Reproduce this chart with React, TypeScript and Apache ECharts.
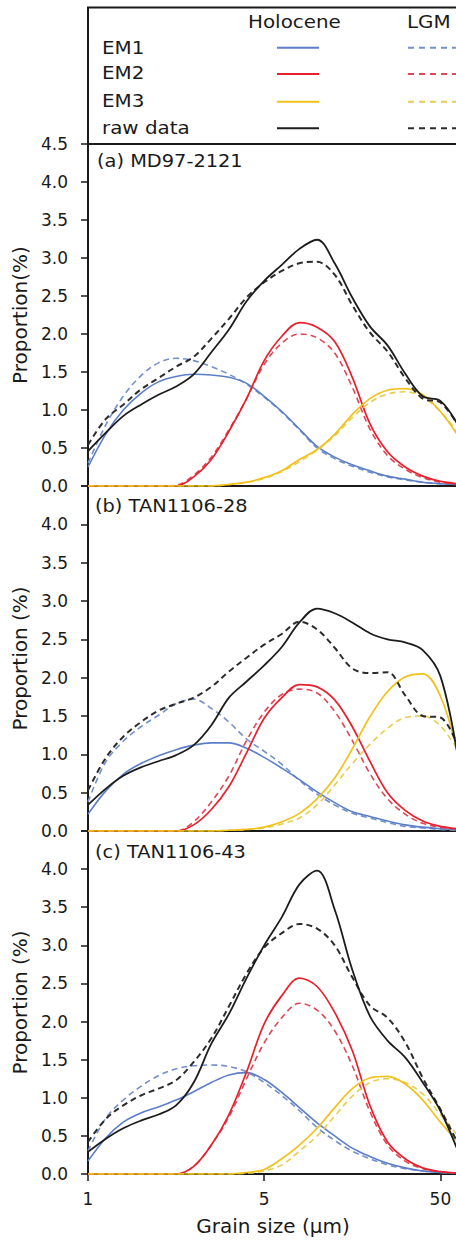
import React, { useEffect, useRef } from 'react';
import * as echarts from 'echarts';

// Grain-size class positions on the x axis (1 µm at 0, 5 µm at 1, 50 µm at 2)
const sizePos = [0, 0.1, 0.2, 0.3, 0.4, 0.5, 0.6, 0.7, 0.8, 0.9, 1.0, 1.1, 1.2, 1.3, 1.4, 1.5, 1.6, 1.7, 1.8, 1.9, 2.0, 2.1];
const sizeTickLabels: Record<string, string> = { '0': '1', '1': '5', '2': '50' };

const panelTags = ['(a) MD97-2121', '(b) TAN1106-28', '(c) TAN1106-43'];
const yNames = ['Proportion(%)', 'Proportion (%)', 'Proportion (%)'];

// (a) MD97-2121
const em1HoloA = [0.25, 0.68, 1.0, 1.22, 1.37, 1.44, 1.47, 1.46, 1.43, 1.35, 1.18, 0.98, 0.75, 0.52, 0.38, 0.28, 0.2, 0.13, 0.09, 0.05, 0.03, 0.02];
const em1LgmA = [0.3, 0.8, 1.18, 1.45, 1.62, 1.68, 1.65, 1.57, 1.47, 1.34, 1.17, 0.97, 0.74, 0.5, 0.36, 0.26, 0.18, 0.12, 0.08, 0.05, 0.03, 0.02];
const em2HoloA = [0, 0, 0, 0, 0, 0, 0.12, 0.35, 0.72, 1.15, 1.65, 1.97, 2.15, 2.09, 1.9, 1.43, 0.82, 0.45, 0.25, 0.13, 0.06, 0.03];
const em2LgmA = [0, 0, 0, 0, 0, 0.01, 0.14, 0.38, 0.74, 1.15, 1.6, 1.88, 2.0, 1.95, 1.75, 1.3, 0.75, 0.4, 0.22, 0.11, 0.05, 0.02];
const em3HoloA = [0, 0, 0, 0, 0, 0, 0, 0, 0.02, 0.05, 0.11, 0.2, 0.35, 0.48, 0.68, 0.94, 1.15, 1.26, 1.28, 1.2, 0.98, 0.66];
const em3LgmA = [0, 0, 0, 0, 0, 0, 0, 0, 0.02, 0.05, 0.1, 0.19, 0.32, 0.47, 0.66, 0.9, 1.1, 1.21, 1.24, 1.17, 0.98, 0.7];
const rawHoloA = [0.46, 0.7, 0.92, 1.07, 1.2, 1.31, 1.47, 1.76, 2.06, 2.43, 2.7, 2.91, 3.12, 3.24, 2.93, 2.48, 2.1, 1.85, 1.48, 1.18, 1.12, 0.8];
const rawLgmA = [0.54, 0.88, 1.07, 1.27, 1.42, 1.57, 1.7, 1.94, 2.2, 2.48, 2.68, 2.83, 2.93, 2.95, 2.78, 2.38, 2.02, 1.77, 1.42, 1.15, 1.1, 0.8];

// (b) TAN1106-28
const em1HoloB = [0.22, 0.52, 0.74, 0.88, 0.98, 1.06, 1.12, 1.15, 1.15, 1.08, 0.96, 0.82, 0.67, 0.51, 0.37, 0.25, 0.19, 0.13, 0.08, 0.05, 0.03, 0.02];
const em1LgmB = [0.38, 0.9, 1.17, 1.36, 1.51, 1.66, 1.72, 1.6, 1.42, 1.2, 1.04, 0.87, 0.66, 0.48, 0.34, 0.23, 0.17, 0.11, 0.06, 0.04, 0.02, 0.01];
const em2HoloB = [0, 0, 0, 0, 0, 0, 0.08, 0.28, 0.58, 1.02, 1.47, 1.74, 1.91, 1.88, 1.71, 1.36, 0.91, 0.5, 0.27, 0.13, 0.06, 0.03];
const em2LgmB = [0, 0, 0, 0, 0, 0, 0.12, 0.38, 0.72, 1.18, 1.55, 1.78, 1.85, 1.8, 1.56, 1.18, 0.75, 0.42, 0.22, 0.1, 0.05, 0.02];
const em3HoloB = [0, 0, 0, 0, 0, 0, 0, 0, 0.01, 0.02, 0.05, 0.12, 0.23, 0.42, 0.69, 1.07, 1.49, 1.82, 2.01, 2.05, 1.76, 1.0];
const em3LgmB = [0, 0, 0, 0, 0, 0, 0, 0, 0.01, 0.02, 0.04, 0.09, 0.17, 0.34, 0.6, 0.88, 1.13, 1.34, 1.48, 1.5, 1.37, 1.05];
const rawHoloB = [0.34, 0.55, 0.72, 0.83, 0.91, 0.99, 1.12, 1.38, 1.74, 1.95, 2.16, 2.4, 2.72, 2.9, 2.84, 2.72, 2.58, 2.5, 2.46, 2.36, 2.02, 0.95];
const rawLgmB = [0.53, 0.95, 1.23, 1.42, 1.57, 1.66, 1.74, 1.88, 2.08, 2.26, 2.43, 2.57, 2.73, 2.63, 2.39, 2.12, 2.06, 2.07, 1.77, 1.5, 1.48, 1.1];

// (c) TAN1106-43
const em1HoloC = [0.17, 0.47, 0.68, 0.8, 0.88, 0.97, 1.08, 1.2, 1.3, 1.33, 1.24, 1.07, 0.87, 0.67, 0.5, 0.34, 0.23, 0.14, 0.08, 0.04, 0.02, 0.01];
const em1LgmC = [0.3, 0.73, 0.97, 1.15, 1.29, 1.38, 1.42, 1.43, 1.41, 1.34, 1.2, 1.03, 0.83, 0.61, 0.44, 0.3, 0.2, 0.12, 0.07, 0.04, 0.02, 0.01];
const em2HoloC = [0, 0, 0, 0, 0, 0, 0.1, 0.38, 0.78, 1.34, 1.97, 2.34, 2.57, 2.46, 2.12, 1.62, 0.9, 0.42, 0.2, 0.08, 0.03, 0.01];
const em2LgmC = [0, 0, 0, 0, 0, 0, 0.1, 0.38, 0.75, 1.25, 1.72, 2.05, 2.24, 2.15, 1.88, 1.42, 0.82, 0.38, 0.17, 0.07, 0.03, 0.01];
const em3HoloC = [0, 0, 0, 0, 0, 0, 0, 0, 0, 0.02, 0.06, 0.2, 0.38, 0.6, 0.87, 1.12, 1.26, 1.28, 1.18, 0.97, 0.68, 0.42];
const em3LgmC = [0, 0, 0, 0, 0, 0, 0, 0, 0, 0.01, 0.04, 0.12, 0.3, 0.5, 0.76, 1.02, 1.2, 1.25, 1.2, 1.05, 0.78, 0.5];
const rawHoloC = [0.29, 0.46, 0.6, 0.7, 0.78, 0.9, 1.2, 1.71, 2.1, 2.57, 3.0, 3.37, 3.8, 3.98, 3.47, 2.68, 2.07, 1.75, 1.53, 1.2, 0.83, 0.3];
const rawLgmC = [0.42, 0.72, 0.9, 1.03, 1.12, 1.23, 1.47, 1.78, 2.2, 2.63, 2.97, 3.16, 3.28, 3.22, 3.0, 2.58, 2.21, 2.05, 1.73, 1.26, 0.85, 0.4];

const FONT = 'DejaVu Sans';
const INK = '#1a1a1a';

const COLORS = {
  em1: '#5c7ec8',
  em1d: '#7390cc',
  em2: '#e8202c',
  em2d: '#df4658',
  em3: '#f2c11a',
  em3d: '#e8cc52',
  raw: '#1c1c1c',
  rawd: '#2c2c2c',
};

const panelData = [
  { em1: [em1HoloA, em1LgmA], em2: [em2HoloA, em2LgmA], em3: [em3HoloA, em3LgmA], raw: [rawHoloA, rawLgmA] },
  { em1: [em1HoloB, em1LgmB], em2: [em2HoloB, em2LgmB], em3: [em3HoloB, em3LgmB], raw: [rawHoloB, rawLgmB] },
  { em1: [em1HoloC, em1LgmC], em2: [em2HoloC, em2LgmC], em3: [em3HoloC, em3LgmC], raw: [rawHoloC, rawLgmC] },
];

const grids = [
  { left: 88, top: 144, width: 370, height: 342 },
  { left: 88, top: 486, width: 370, height: 345 },
  { left: 88, top: 831, width: 370, height: 343 },
];

function curve(name: string, ys: number[], color: string, dashed: boolean, gi: number, width: number) {
  return {
    name,
    type: 'line',
    xAxisIndex: gi,
    yAxisIndex: gi,
    data: sizePos.map((x, i) => [x, ys[i]]),
    smooth: 0.35,
    symbol: 'none',
    silent: true,
    lineStyle: {
      color,
      width,
      type: dashed ? [6, 4] : 'solid',
    },
  };
}

function legendText(text: string, x: number, y: number) {
  return {
    type: 'text',
    x,
    y,
    scaleX: 1.17,
    silent: true,
    style: {
      text,
      fontSize: 17,
      fontFamily: FONT,
      fill: INK,
      align: 'left',
      verticalAlign: 'middle',
      textAlign: 'left',
      textVerticalAlign: 'middle',
    },
  };
}

function legendLine(x1: number, x2: number, y: number, color: string, dashed: boolean) {
  return {
    type: 'line',
    silent: true,
    shape: { x1, y1: y, x2, y2: y },
    style: { stroke: color, lineWidth: 2, lineDash: dashed ? [6, 5] : null },
  };
}

export default function App() {
  const ref = useRef<HTMLDivElement>(null);

  useEffect(() => {
    if (!ref.current) return;
    const chart = echarts.init(ref.current, null, { renderer: 'svg' });

    const series: any[] = [];
    panelData.forEach((p, gi) => {
      series.push(curve('EM1 LGM', p.em1[1], COLORS.em1d, true, gi, 1.6));
      series.push(curve('EM1 Holocene', p.em1[0], COLORS.em1, false, gi, 1.6));
      series.push(curve('EM2 LGM', p.em2[1], COLORS.em2d, true, gi, 1.6));
      series.push(curve('EM2 Holocene', p.em2[0], COLORS.em2, false, gi, 1.7));
      series.push(curve('EM3 LGM', p.em3[1], COLORS.em3d, true, gi, 1.6));
      series.push(curve('EM3 Holocene', p.em3[0], COLORS.em3, false, gi, 1.7));
      series.push(curve('raw data LGM', p.raw[1], COLORS.rawd, true, gi, 2));
      series.push(curve('raw data Holocene', p.raw[0], COLORS.raw, false, gi, 1.8));
    });

    const xAxis = grids.map((_, gi) => ({
      type: 'value',
      gridIndex: gi,
      min: 0,
      max: 2.1,
      interval: 1,
      splitLine: { show: false },
      axisLine: { show: true, onZero: false, lineStyle: { color: INK, width: 2 } },
      axisTick: { show: gi === 2, length: 7, lineStyle: { color: INK, width: 1.5 } },
      axisLabel: {
        show: gi === 2,
        margin: 16,
        fontSize: 17,
        fontFamily: FONT,
        color: INK,
        formatter: (v: number) => sizeTickLabels[String(v)] ?? '',
      },
      name: gi === 2 ? 'Grain size (µm)' : '',
      nameLocation: 'middle',
      nameGap: 42,
      nameTextStyle: { fontSize: 20, fontFamily: FONT, color: INK },
    }));

    const yAxis = grids.map((_, gi) => ({
      type: 'value',
      gridIndex: gi,
      min: 0,
      max: 4.5,
      interval: 0.5,
      splitLine: { show: false },
      axisLine: { show: true, lineStyle: { color: INK, width: 2 } },
      axisTick: { show: true, length: 7, lineStyle: { color: INK, width: 1.5 } },
      axisLabel: {
        margin: 20,
        fontSize: 17,
        fontFamily: FONT,
        color: INK,
        showMaxLabel: true,
        formatter: (v: number) => (gi > 0 && Math.abs(v - 4.5) < 1e-6 ? '' : v.toFixed(1)),
      },
      name: yNames[gi],
      nameLocation: 'middle',
      nameGap: 52,
      nameTextStyle: { fontSize: 20, fontFamily: FONT, color: INK },
    }));

    const tagY = [160.5, 506, 852];
    const tagX = [97, 95, 95];

    const graphic: any[] = [
      {
        type: 'rect',
        silent: true,
        shape: { x: 88, y: 7.5, width: 400, height: 136.5 },
        style: { fill: 'none', stroke: INK, lineWidth: 2 },
      },
      legendText('Holocene', 248, 22.5),
      legendText('LGM', 407, 22.5),
      legendText('EM1', 102, 48),
      legendText('EM2', 102, 73.5),
      legendText('EM3', 102, 101.5),
      legendText('raw data', 102, 128),
      legendLine(277, 319, 47.7, COLORS.em1, false),
      legendLine(277, 319, 74, COLORS.em2, false),
      legendLine(277, 319, 101.7, COLORS.em3, false),
      legendLine(277, 319, 128.3, COLORS.raw, false),
      legendLine(408, 462, 47.7, COLORS.em1d, true),
      legendLine(408, 462, 74, COLORS.em2d, true),
      legendLine(408, 462, 101.7, COLORS.em3d, true),
      legendLine(408, 462, 128.3, COLORS.rawd, true),
      ...panelTags.map((t, i) => ({
        ...legendText(t, tagX[i], tagY[i]),
        scaleX: 1.14,
      })),
    ];

    chart.setOption({
      animation: false,
      backgroundColor: '#ffffff',
      grid: grids,
      xAxis,
      yAxis,
      series,
      graphic,
    });

    return () => chart.dispose();
  }, []);

  return (
    <div style={{ position: 'absolute', left: 0, top: 0, width: 456, height: 1241, overflow: 'hidden', background: '#fff' }}>
      <div ref={ref} style={{ width: 470, height: 1241 }} />
    </div>
  );
}
